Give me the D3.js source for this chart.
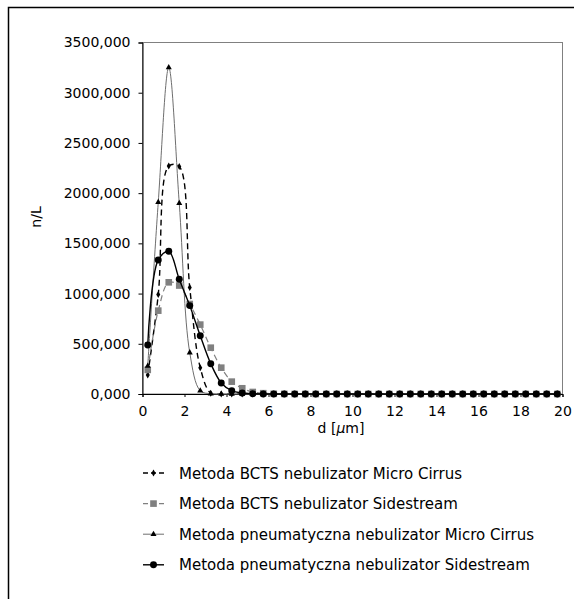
<!DOCTYPE html>
<html>
<head>
<meta charset="utf-8">
<script src="https://cdn.jsdelivr.net/npm/d3@7"></script>
<style>
  body { margin: 0; background: #fff; }
  svg { display: block; font-family: "DejaVu Sans", sans-serif; }
  .tick text { font-size: 14px; fill: #000; }
  .legend text { font-size: 15px; fill: #000; }
</style>
</head>
<body>
<svg id="chart" width="574" height="599"></svg>
<script>
// particle diameter bins [um]
const diameters = [0.25, 0.75, 1.25, 1.75, 2.25, 2.75, 3.25, 3.75, 4.25, 4.75,
                   5.25, 5.75, 6.25, 6.75, 7.25, 7.75, 8.25, 8.75, 9.25, 9.75,
                   10.25, 10.75, 11.25, 11.75, 12.25, 12.75, 13.25, 13.75, 14.25, 14.75,
                   15.25, 15.75, 16.25, 16.75, 17.25, 17.75, 18.25, 18.75, 19.25, 19.75];

const bctsMicroCirrus = [190, 990, 2270, 2265, 1060, 262, 8, 0, 0, 0,
                         0, 0, 0, 0, 0, 0, 0, 0, 0, 0,
                         0, 0, 0, 0, 0, 0, 0, 0, 0, 0,
                         0, 0, 0, 0, 0, 0, 0, 0, 0, 0];
const bctsSidestream = [240, 830, 1112, 1080, 896, 691, 461, 262, 123, 57,
                        20, 8, 2, 1, 0, 0, 0, 0, 0, 0,
                        0, 0, 0, 0, 0, 0, 0, 0, 0, 0,
                        0, 0, 0, 0, 0, 0, 0, 0, 0, 0];
const pneumMicroCirrus = [279, 1909, 3250, 1899, 412, 33, 3, 0, 0, 0,
                          0, 0, 0, 0, 0, 0, 0, 0, 0, 0,
                          0, 0, 0, 0, 0, 0, 0, 0, 0, 0,
                          0, 0, 0, 0, 0, 0, 0, 0, 0, 0];
const pneumSidestream = [488, 1335, 1421, 1142, 880, 581, 302, 110, 33, 10,
                         3, 1, 0, 0, 0, 0, 0, 0, 0, 0,
                         0, 0, 0, 0, 0, 0, 0, 0, 0, 0,
                         0, 0, 0, 0, 0, 0, 0, 0, 0, 0];

const seriesNames = [
    "Metoda BCTS nebulizator Micro Cirrus",
    "Metoda BCTS nebulizator Sidestream",
    "Metoda pneumatyczna nebulizator Micro Cirrus",
    "Metoda pneumatyczna nebulizator Sidestream"
];
const xTicks = [0, 2, 4, 6, 8, 10, 12, 14, 16, 18, 20];
const yTicks = [0, 500, 1000, 1500, 2000, 2500, 3000, 3500];

const series = [
    { name: seriesNames[0], values: bctsMicroCirrus, line: "#000", width: 1.4, dash: "6,4", marker: "diamond", fill: "#000", size: 14 },
    { name: seriesNames[1], values: bctsSidestream, line: "#808080", width: 1.2, dash: "6,4", marker: "square", fill: "#808080", size: 44 },
    { name: seriesNames[2], values: pneumMicroCirrus, line: "#6e6e6e", width: 1, dash: null, marker: "triangle", fill: "#000", size: 16 },
    { name: seriesNames[3], values: pneumSidestream, line: "#000", width: 1.4, dash: null, marker: "circle", fill: "#000", size: 38 }
];

const svg = d3.select( "#chart" );
const plotLeft = 142.5, plotRight = 562.5, plotTop = 42.5, plotBottom = 394;

const x = d3.scaleLinear().domain( [ 0, 20 ] ).range( [ plotLeft, plotRight ] );
const y = d3.scaleLinear().domain( [ 0, 3500 ] ).range( [ plotBottom, plotTop ] );

const comma = d3.formatLocale( { decimal: ",", thousands: " ", grouping: [ 3 ], currency: [ "", "" ] } ).format( ".3f" );

const symbolType = {
    diamond: d3.symbolDiamond,
    square: d3.symbolSquare,
    triangle: d3.symbolTriangle,
    circle: d3.symbolCircle
};

// outer chart frame
svg.append( "rect" )
    .attr( "x", 8.5 ).attr( "y", 7.5 )
    .attr( "width", 700 ).attr( "height", 700 )
    .attr( "fill", "none" )
    .attr( "stroke", "#000" )
    .attr( "stroke-width", 1.5 );

// plot area border
svg.append( "rect" )
    .attr( "x", plotLeft ).attr( "y", plotTop )
    .attr( "width", plotRight - plotLeft ).attr( "height", plotBottom - plotTop )
    .attr( "fill", "none" )
    .attr( "stroke", "#808080" );

const gx = svg.append( "g" )
    .attr( "transform", `translate(0,${plotBottom})` )
    .call( d3.axisBottom( x ).tickValues( xTicks ).tickSize( 3 ).tickPadding( 9 ) );

const gy = svg.append( "g" )
    .attr( "transform", `translate(${plotLeft},0)` )
    .call( d3.axisLeft( y ).tickValues( yTicks ).tickFormat( comma ).tickSize( 4 ).tickPadding( 8 ) );

[ gx, gy ].forEach( g => {
    g.attr( "font-family", null ).attr( "font-size", null );
    g.select( ".domain" ).attr( "stroke", "#000" );
    g.selectAll( ".tick line" ).attr( "stroke", "#000" );
} );

// axis titles
const xTitle = svg.append( "text" )
    .attr( "x", 341 ).attr( "y", 433 )
    .attr( "text-anchor", "middle" )
    .attr( "font-size", 14 );
xTitle.append( "tspan" ).text( "d [" );
xTitle.append( "tspan" ).attr( "font-style", "italic" ).text( "μ" );
xTitle.append( "tspan" ).text( "m]" );

svg.append( "text" )
    .attr( "transform", "translate(41,217) rotate(-90)" )
    .attr( "text-anchor", "middle" )
    .attr( "font-size", 14 )
    .text( "n/L" );

// series lines and markers
const line = d3.line()
    .x( ( d, i ) => x( diameters[ i ] ) )
    .y( d => y( d ) )
    .curve( d3.curveCatmullRom );

const plot = svg.append( "g" );

series.forEach( s => {
    plot.append( "path" )
        .datum( s.values )
        .attr( "d", line )
        .attr( "fill", "none" )
        .attr( "stroke", s.line )
        .attr( "stroke-width", s.width )
        .attr( "stroke-dasharray", s.dash );

    plot.append( "g" )
        .selectAll( "path" )
        .data( s.values )
        .enter()
        .append( "path" )
        .attr( "transform", ( d, i ) => `translate(${x( diameters[ i ] )},${y( d )})` )
        .attr( "d", d3.symbol().type( symbolType[ s.marker ] ).size( s.size ) )
        .attr( "fill", s.fill );
} );

// legend
const legend = svg.append( "g" )
    .attr( "class", "legend" )
    .selectAll( "g" )
    .data( series )
    .enter()
    .append( "g" )
    .attr( "transform", ( d, i ) => `translate(0,${473 + i * 30.6})` );

legend.append( "line" )
    .attr( "x1", 143 ).attr( "x2", 164 )
    .attr( "stroke", d => d.line )
    .attr( "stroke-width", d => d.width )
    .attr( "stroke-dasharray", d => d.dash ? "5,3" : null );

legend.append( "path" )
    .attr( "transform", "translate(153.5,0)" )
    .attr( "d", d => d3.symbol().type( symbolType[ d.marker ] ).size( d.size )() )
    .attr( "fill", d => d.fill );

legend.append( "text" )
    .attr( "x", 179 )
    .attr( "y", 5.5 )
    .text( d => d.name );
</script>
</body>
</html>
